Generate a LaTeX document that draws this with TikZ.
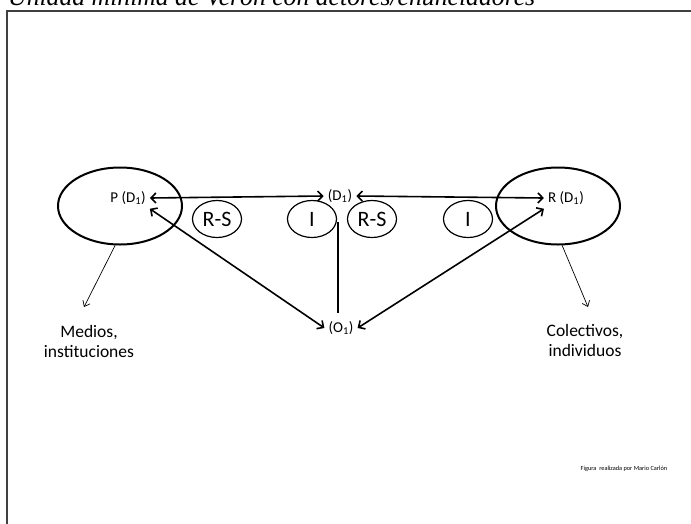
\documentclass[tikz,border=0pt]{standalone}
\usepackage{fontspec}
\setmainfont{Carlito}
\newfontfamily\titlefont{Liberation Serif}
\usetikzlibrary{shapes.geometric,arrows.meta}
\tikzstyle{every node}=[inner sep=4pt]
\tikzstyle{lbl}=[font=\fontsize{15}{18}\selectfont]
\tikzstyle{desc}=[font=\fontsize{17.5}{20}\selectfont, align=center]
\tikzstyle{oval}=[draw, ellipse, line width=1.2, minimum width=49, minimum height=37, inner sep=0pt, font=\fontsize{22}{26}\selectfont]
\tikzstyle{big}=[draw, ellipse, line width=2, minimum width=124, minimum height=77, inner sep=0pt]
\tikzstyle{duo}=[{Straight Barb[length=5pt,width=10pt]}-{Straight Barb[length=5pt,width=10pt]}, line width=1.6]
\tikzstyle{pointer}=[-{Straight Barb[length=5pt,width=8pt]}, line width=0.7]

\begin{document}
\begin{tikzpicture}[x=1pt, y=-1pt]
 \useasboundingbox (0,0) rectangle (691,523);
 \draw[line width=1.6, black!75] (700,11) -- (7,11) -- (7,530);
 \node[anchor=base west, inner sep=0pt, font=\titlefont\itshape\fontsize{25.7}{30}\selectfont] (ttl) at (8,5) {Unidad mínima de Verón con actores/enunciadores};
 % the two poles
 \node[big] (pe) at (120,206) {};
 \node[big] (re) at (558,206) {};
 \node[lbl] (p) at (128,198) {P (D\textsubscript{1})};
 \node[lbl] (r) at (566,198) {R (D\textsubscript{1})};
 \node[lbl] (d) at (340,196) {(D\textsubscript{1})};
 \node[lbl] (o) at (341,328) {(O\textsubscript{1})};
 % small ovals
 \node[oval] (rs1) at (217,219) {R-S};
 \node[oval] (i1) at (312,219) {I};
 \node[oval] (rs2) at (372,219) {R-S};
 \node[oval] (i2) at (468,219) {I};
 % connectors
 \draw[duo] (p.east) -- (d.west);
 \draw[duo] (d.east) -- (r.west);
 \draw[duo] (p.south east) -- (o.west);
 \draw[duo] (o.east) -- (r.south west);
 \draw[line width=1.2, shorten <=15pt, shorten >=4pt] ([xshift=-2pt]d.south) -- ([xshift=-2pt]d.south |- o.north);
 % actors
 \coordinate (pm) at (84,307);
 \coordinate (rc) at (588,307);
 \draw[pointer] (pe.263) -- (pm);
 \draw[pointer] (re.276) -- (rc);
 \node[desc] (med) at (89,341) {Medios,\\instituciones};
 \node[desc] (col) at (585,340) {Colectivos,\\individuos};
 \node[font=\fontsize{6.3}{8}\selectfont] (cred) at (624,469) {Figura\ \ realizada por Mario Carlón};
\end{tikzpicture}
\end{document}
